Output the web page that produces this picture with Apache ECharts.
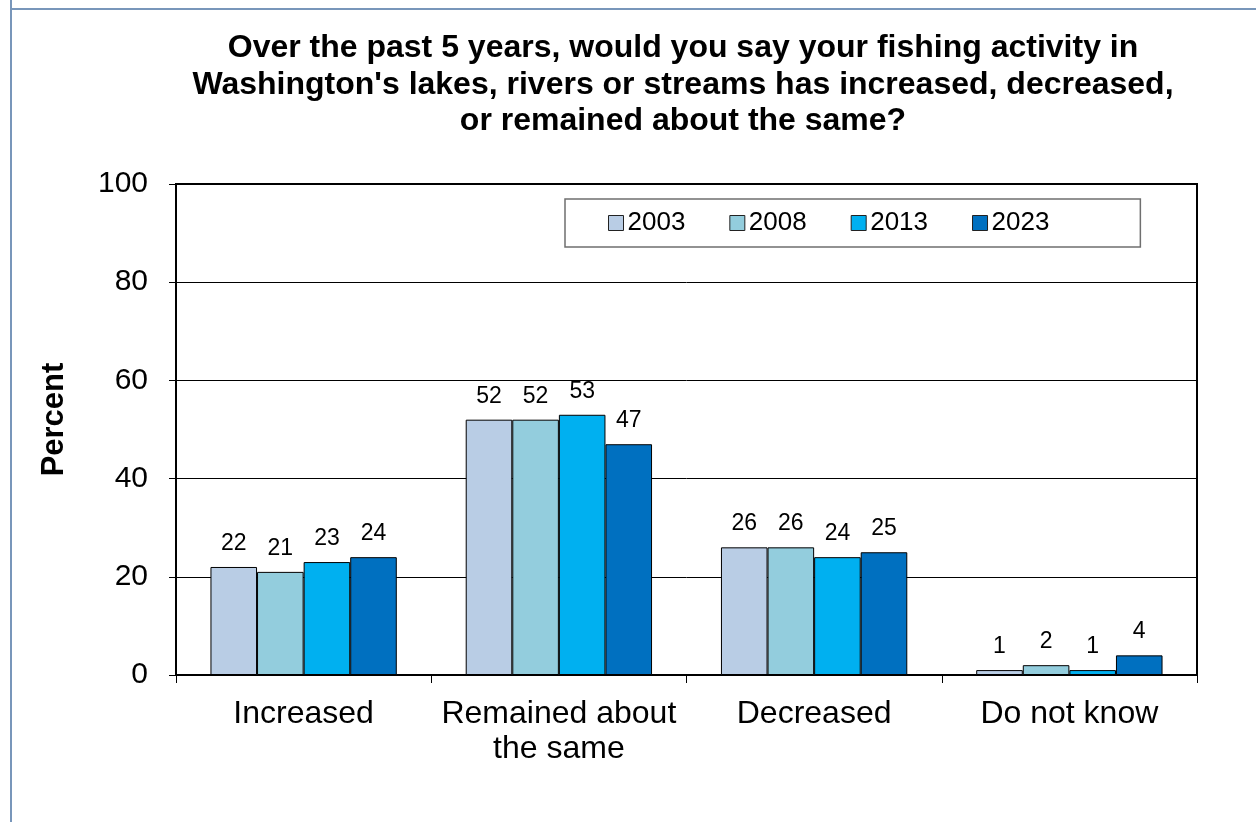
<!DOCTYPE html>
<html>
<head>
<meta charset="utf-8">
<script src="https://cdn.jsdelivr.net/npm/echarts@6/dist/echarts.min.js"></script>
<style>
html,body{margin:0;padding:0;background:#fff;}
#c{width:1256px;height:822px;}
</style>
</head>
<body>
<div id="c"></div>
<script>
const categories = ['Increased', 'Remained about\nthe same', 'Decreased', 'Do not know'];
const seriesNames = ['2003', '2008', '2013', '2023'];
const values2003 = [22, 52, 26, 1];
const values2008 = [21, 52, 26, 2];
const values2013 = [23, 53, 24, 1];
const values2023 = [24, 47, 25, 4];
const colors = ['#B9CDE5', '#93CDDD', '#00B0F0', '#0070C0'];
const titleText = "Over the past 5 years, would you say your fishing activity in\nWashington's lakes, rivers or streams has increased, decreased,\nor remained about the same?";

const FONT = "'Liberation Sans', Arial, sans-serif";
const allValues = [values2003, values2008, values2013, values2023];

const chart = echarts.init(document.getElementById('c'), null, {renderer: 'canvas'});
chart.setOption({
  animation: false,
  backgroundColor: '#fff',
  textStyle: {fontFamily: FONT, color: '#000'},
  title: {
    text: titleText,
    left: 678,
    textAlign: 'center',
    top: 25,
    textStyle: {fontFamily: FONT, fontSize: 32, fontWeight: 'bold', lineHeight: 36.5, color: '#000'}
  },
  graphic: [
    {type: 'line', shape: {x1: 11, y1: 0, x2: 11, y2: 822}, style: {stroke: '#7896ba', lineWidth: 2}},
    {type: 'line', shape: {x1: 11, y1: 9, x2: 1256, y2: 9}, style: {stroke: '#7896ba', lineWidth: 2}}
  ],
  legend: {
    data: seriesNames,
    left: 565,
    top: 199,
    orient: 'horizontal',
    padding: [11, 91, 11, 43],
    itemGap: 44,
    itemWidth: 15,
    itemHeight: 15,
    icon: 'rect',
    borderColor: '#6f6f6f',
    borderWidth: 1.5,
    backgroundColor: '#fff',
    textStyle: {fontFamily: FONT, fontSize: 26, color: '#000', padding: [0, 0, 0, -1]},
    itemStyle: {borderColor: '#222', borderWidth: 1}
  },
  grid: {
    left: 176, right: 59, top: 184, bottom: 147,
    show: true, borderColor: '#000', borderWidth: 2, backgroundColor: 'transparent'
  },
  xAxis: {
    type: 'category',
    data: categories,
    axisLine: {show: true, lineStyle: {color: '#000', width: 2}},
    axisTick: {show: true, length: 8, lineStyle: {color: '#000', width: 1}},
    axisLabel: {fontFamily: FONT, fontSize: 32, color: '#000', lineHeight: 35, margin: 22, interval: 0}
  },
  yAxis: {
    type: 'value',
    min: 0, max: 100, interval: 20,
    name: 'Percent',
    nameLocation: 'middle',
    nameGap: 106,
    nameTextStyle: {fontFamily: FONT, fontSize: 31, fontWeight: 'bold', color: '#000', padding: [0, 0, 0, 20]},
    axisLine: {show: true, lineStyle: {color: '#000', width: 2}},
    axisTick: {show: true, length: 7, lineStyle: {color: '#000', width: 1}},
    axisLabel: {fontFamily: FONT, fontSize: 30, color: '#000', margin: 28},
    splitLine: {show: true, lineStyle: {color: '#000', width: 1}}
  },
  series: seriesNames.map((name, i) => ({
    name: name,
    type: 'bar',
    data: allValues[i],
    barGap: '0%',
    barCategoryGap: '27%',
    itemStyle: {color: colors[i], borderColor: '#000', borderWidth: 1},
    label: {show: true, position: 'top', distance: 12, fontFamily: FONT, fontSize: 23, color: '#000'}
  }))
});
</script>
</body>
</html>
